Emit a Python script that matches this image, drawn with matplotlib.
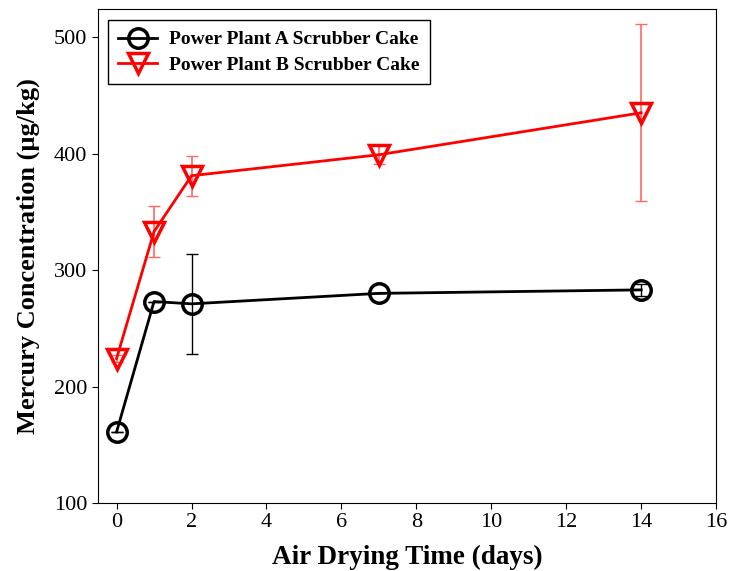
import matplotlib
matplotlib.use("Agg")
import matplotlib.pyplot as plt

plt.rcParams['font.family'] = ['Liberation Serif', 'DejaVu Serif']

days = [0, 1, 2, 7, 14]
plant_a = [161, 273, 271, 280, 283]
plant_a_err = [0, 0, 43, 0, 5]
plant_b = [224, 333, 381, 399, 435]
plant_b_err = [3, 22, 17, 8, 76]

fig = plt.figure(figsize=(7.3, 5.71), dpi=100)
ax = fig.add_axes([0.134, 0.119, 0.847, 0.865])

ax.errorbar(days, plant_a, yerr=plant_a_err, fmt='none', ecolor='k', elinewidth=1, capsize=4, zorder=2)
ax.errorbar(days, plant_b, yerr=plant_b_err, fmt='none', ecolor=(1, 0.4, 0.4), elinewidth=1.2, capsize=4, zorder=2)
ax.plot(days, plant_a, 'k-', marker='o', markersize=14, markerfacecolor='none',
        markeredgewidth=2.5, linewidth=2, label='Power Plant A Scrubber Cake', zorder=3)
ax.plot(days, plant_b, 'r-', marker='v', markersize=15, markerfacecolor='none',
        markeredgewidth=2.5, linewidth=2, label='Power Plant B Scrubber Cake', zorder=3)

ax.set_xlim(-0.5, 16)
ax.set_ylim(100, 524)
ax.set_xticks(range(0, 17, 2))
ax.set_yticks([100, 200, 300, 400, 500])
ax.tick_params(axis='both', labelsize=16, direction='out', length=4)
ax.set_xlabel('Air Drying Time (days)', fontsize=19.5, fontweight='bold', labelpad=9)
ax.set_ylabel('Mercury Concentration (µg/kg)', fontsize=19, fontweight='bold', labelpad=10)

leg = ax.legend(loc='upper left', prop={'size': 14, 'weight': 'bold'}, fancybox=False,
                edgecolor='k', framealpha=1, handlelength=2.0, handletextpad=0.6, borderpad=0.55,
                labelspacing=0.4, borderaxespad=0, bbox_to_anchor=(0.016, 0.978))
leg.get_frame().set_linewidth(1)

fig.savefig('out.png', dpi=100)
